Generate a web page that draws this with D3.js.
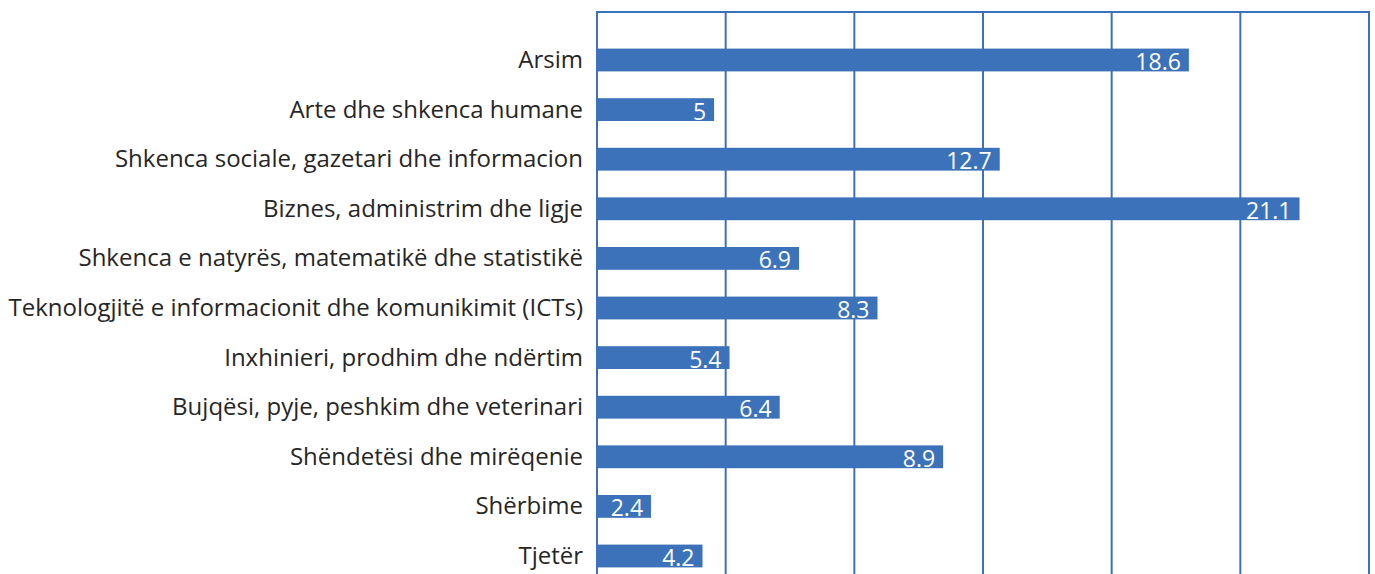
<!DOCTYPE html>
<html>
<head>
<meta charset="utf-8">
<script src="https://cdn.jsdelivr.net/npm/d3@7"></script>
<style>
  body { margin: 0; background: #fff; }
  svg { display: block; }
</style>
</head>
<body>
<svg width="1375" height="574"></svg>
<script>
const svg = d3.select("svg");
const width = +svg.attr("width");
const height = +svg.attr("height");

// Categories (top to bottom)
const categories = [
    "Arsim",
    "Arte dhe shkenca humane",
    "Shkenca sociale, gazetari dhe informacion",
    "Biznes, administrim dhe ligje",
    "Shkenca e natyrës, matematikë dhe statistikë",
    "Teknologjitë e informacionit dhe komunikimit (ICTs)",
    "Inxhinieri, prodhim dhe ndërtim",
    "Bujqësi, pyje, peshkim dhe veterinari",
    "Shëndetësi dhe mirëqenie",
    "Shërbime",
    "Tjetër"
];

// Bar lengths as drawn against the grid (grid lines every 5 units)
const barValues = [23.0, 4.55, 15.65, 27.3, 7.85, 10.9, 5.15, 7.1, 13.45, 2.1, 4.1];

// Numbers printed on the bars
const valueLabels = ["18.6", "5", "12.7", "21.1", "6.9", "8.3", "5.4", "6.4", "8.9", "2.4", "4.2"];

const gridTicks = [0, 5, 10, 15, 20, 25, 30];

const blue = "#3c72b9";
const font = "'Open Sans', 'Noto Sans', sans-serif";
const plotLeft = 597, plotRight = 1369, plotTop = 12;

// Scales
const x = d3.scaleLinear().domain([0, 30]).range([plotLeft, plotRight]);
const y = d3.scaleBand()
    .domain(categories)
    .range([35.2, 580.8])
    .paddingInner(0.54)
    .paddingOuter(0.27);

// Vertical grid lines
svg.append("g")
    .selectAll("line")
    .data(gridTicks)
    .join("line")
    .attr("x1", d => x(d))
    .attr("x2", d => x(d))
    .attr("y1", plotTop)
    .attr("y2", height + 10)
    .attr("stroke", blue)
    .attr("stroke-width", 2);

// Top border
svg.append("line")
    .attr("x1", plotLeft - 1)
    .attr("x2", plotRight + 1)
    .attr("y1", plotTop)
    .attr("y2", plotTop)
    .attr("stroke", blue)
    .attr("stroke-width", 2);

// Bars
svg.append("g")
    .selectAll("rect")
    .data(categories)
    .join("rect")
    .attr("x", x(0))
    .attr("y", d => y(d))
    .attr("width", (d, i) => x(barValues[i]) - x(0))
    .attr("height", y.bandwidth())
    .attr("fill", blue);

// Category labels
svg.append("g")
    .selectAll("text")
    .data(categories)
    .join("text")
    .attr("x", plotLeft - 14)
    .attr("y", d => y(d) + y.bandwidth() / 2 + 8)
    .attr("text-anchor", "end")
    .attr("font-family", font)
    .attr("font-size", 24)
    .attr("fill", "#262626")
    .text(d => d);

// Value labels
svg.append("g")
    .selectAll("text")
    .data(categories)
    .join("text")
    .attr("x", (d, i) => x(barValues[i]) - 8)
    .attr("y", d => y(d) + y.bandwidth() / 2 + 10)
    .attr("text-anchor", "end")
    .attr("font-family", font)
    .attr("font-size", 23)
    .attr("fill", "#fff")
    .text((d, i) => valueLabels[i]);
</script>
</body>
</html>
